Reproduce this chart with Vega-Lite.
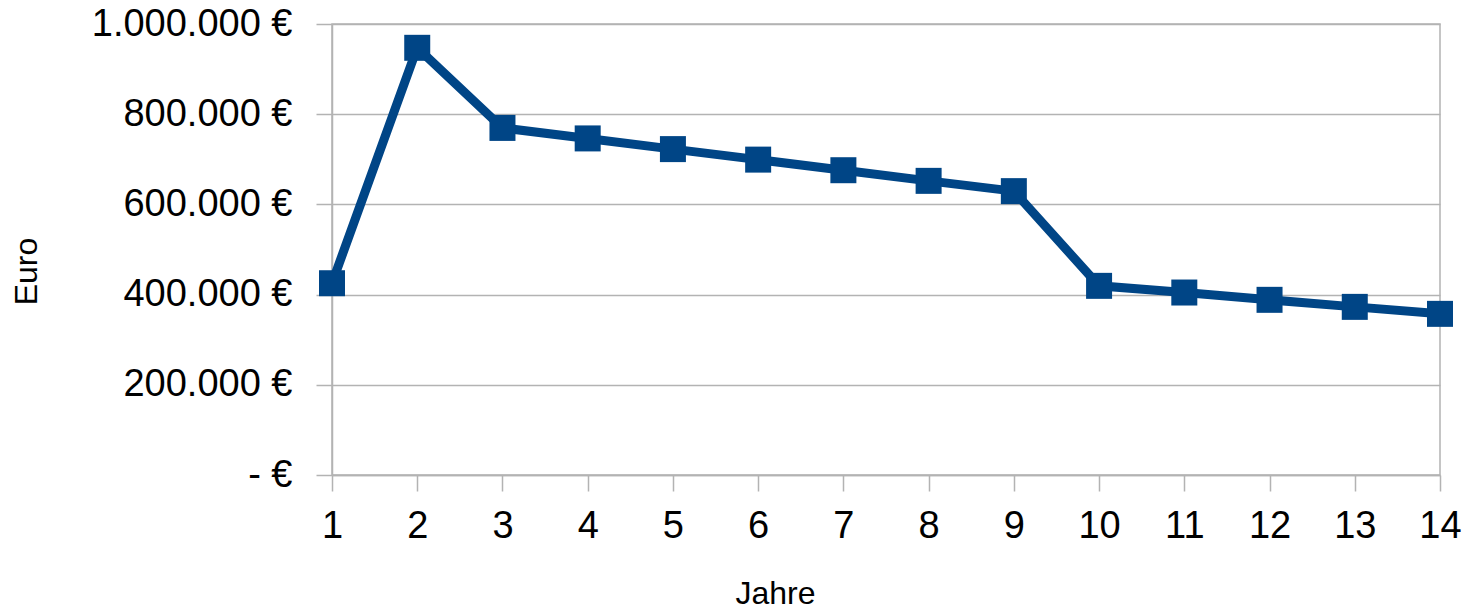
{
  "$schema": "https://vega.github.io/schema/vega-lite/v6.json",
  "autosize": {"type": "none"},
  "padding": {"left": 332, "top": 24, "right": 32, "bottom": 132},
  "width": 1108,
  "height": 451,
  "background": "white",
  "config": {
    "font": "Liberation Sans",
    "view": {"stroke": "#b3b3b3", "strokeWidth": 1.5},
    "axis": {
      "labelFont": "Liberation Sans",
      "titleFont": "Liberation Sans",
      "labelColor": "black",
      "titleColor": "black",
      "titleFontWeight": "normal",
      "labelFontSize": 38,
      "titleFontSize": 32,
      "labelLimit": 0,
      "domainColor": "#b3b3b3",
      "domainWidth": 1.5,
      "tickColor": "#b3b3b3",
      "tickWidth": 1.5,
      "tickSize": 16,
      "gridColor": "#b3b3b3",
      "gridWidth": 1.5
    }
  },
  "data": {
    "values": [
      {"jahr": 1, "euro": 425200},
      {"jahr": 2, "euro": 947200},
      {"jahr": 3, "euro": 769600},
      {"jahr": 4, "euro": 746300},
      {"jahr": 5, "euro": 722600},
      {"jahr": 6, "euro": 699300},
      {"jahr": 7, "euro": 675800},
      {"jahr": 8, "euro": 652200},
      {"jahr": 9, "euro": 629400},
      {"jahr": 10, "euro": 419400},
      {"jahr": 11, "euro": 404600},
      {"jahr": 12, "euro": 388400},
      {"jahr": 13, "euro": 372800},
      {"jahr": 14, "euro": 357300}
    ]
  },
  "encoding": {
    "x": {
      "field": "jahr",
      "type": "quantitative",
      "scale": {"domain": [1, 14], "nice": false, "zero": false},
      "axis": {
        "title": "Jahre",
        "values": [1, 2, 3, 4, 5, 6, 7, 8, 9, 10, 11, 12, 13, 14],
        "format": "d",
        "grid": false,
        "labelBaseline": "alphabetic",
        "labelPadding": 46,
        "labelFlush": false,
        "labelOverlap": false,
        "titleX": 443,
        "titleY": 128,
        "titleBaseline": "alphabetic",
        "titleAnchor": null
      }
    },
    "y": {
      "field": "euro",
      "type": "quantitative",
      "scale": {"domain": [0, 1000000], "nice": false},
      "axis": {
        "title": "Euro",
        "values": [0, 200000, 400000, 600000, 800000, 1000000],
        "labelExpr": "datum.value === 0 ? '- €' : replace(replace(format(datum.value, ','), ',', '.'), ',', '.') + ' €'",
        "labelPadding": 24,
        "grid": true,
        "titleAngle": -90,
        "titleAlign": "center",
        "titleBaseline": "middle",
        "titleX": -306,
        "titleY": 247
      }
    }
  },
  "layer": [
    {
      "mark": {"type": "line", "color": "#004586", "strokeWidth": 9, "strokeJoin": "miter"}
    },
    {
      "mark": {"type": "point", "shape": "square", "filled": true, "color": "#004586", "opacity": 1, "size": 676}
    }
  ]
}
